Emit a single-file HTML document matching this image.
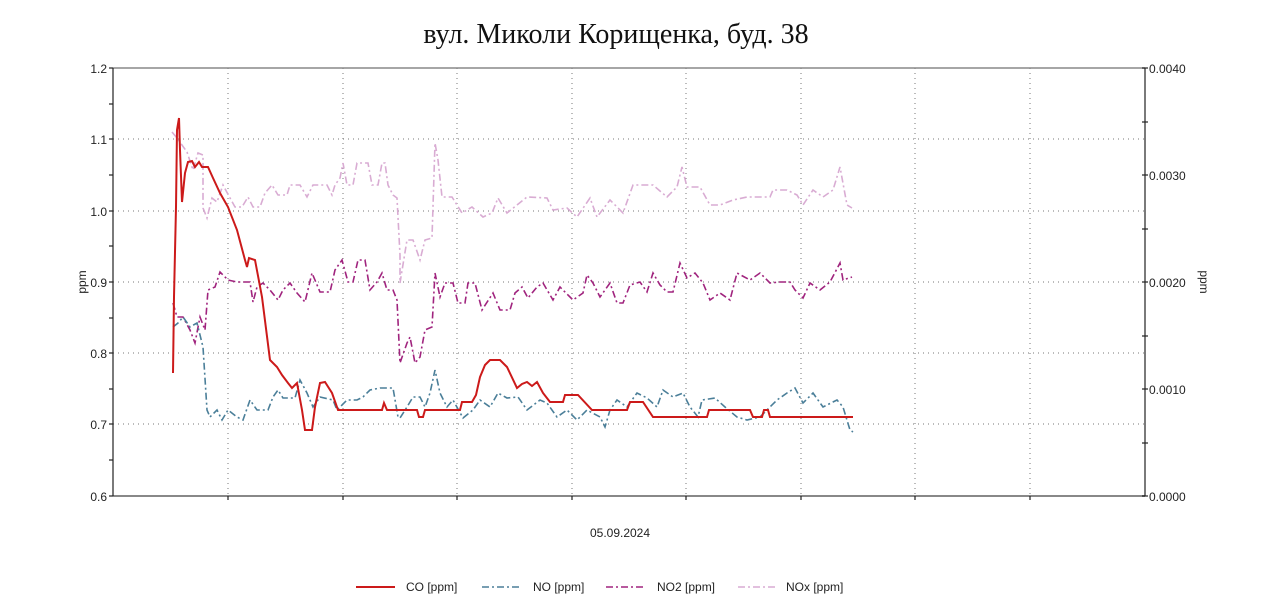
<!DOCTYPE html>
<html><head><meta charset="utf-8"><style>
html,body{margin:0;padding:0;background:#fff;}
svg{display:block;}
text{font-family:"Liberation Sans",sans-serif;fill:#222;}
</style></head><body>
<svg width="1280" height="606" viewBox="0 0 1280 606" xmlns="http://www.w3.org/2000/svg">
<text x="616" y="43" text-anchor="middle" style="font-family:'Liberation Serif','Noto Serif CJK SC',serif;font-size:28px;fill:#111">вул. Миколи Корищенка, буд. 38</text>
<g stroke="#777" stroke-width="1" stroke-dasharray="1,4">
<line x1="113" y1="139" x2="1145" y2="139"/><line x1="113" y1="211" x2="1145" y2="211"/><line x1="113" y1="282" x2="1145" y2="282"/><line x1="113" y1="353" x2="1145" y2="353"/><line x1="113" y1="424" x2="1145" y2="424"/>
<line x1="228" y1="68" x2="228" y2="496"/><line x1="343" y1="68" x2="343" y2="496"/><line x1="457" y1="68" x2="457" y2="496"/><line x1="572" y1="68" x2="572" y2="496"/><line x1="686" y1="68" x2="686" y2="496"/><line x1="801" y1="68" x2="801" y2="496"/><line x1="915" y1="68" x2="915" y2="496"/><line x1="1030" y1="68" x2="1030" y2="496"/>
</g>
<line x1="113" y1="68" x2="1145" y2="68" stroke="#888" stroke-width="1.5"/>
<line x1="113" y1="496" x2="1145" y2="496" stroke="#888" stroke-width="2"/>
<line x1="113" y1="68" x2="113" y2="496" stroke="#222" stroke-width="1.2"/>
<line x1="1145" y1="68" x2="1145" y2="496" stroke="#222" stroke-width="1.2"/>
<g stroke="#222" stroke-width="1.2">
<line x1="109" y1="68" x2="113" y2="68"/><line x1="109" y1="104" x2="113" y2="104"/><line x1="109" y1="139" x2="113" y2="139"/><line x1="109" y1="175" x2="113" y2="175"/><line x1="109" y1="211" x2="113" y2="211"/><line x1="109" y1="246" x2="113" y2="246"/><line x1="109" y1="282" x2="113" y2="282"/><line x1="109" y1="318" x2="113" y2="318"/><line x1="109" y1="353" x2="113" y2="353"/><line x1="109" y1="389" x2="113" y2="389"/><line x1="109" y1="424" x2="113" y2="424"/><line x1="109" y1="460" x2="113" y2="460"/><line x1="109" y1="496" x2="113" y2="496"/>
<line x1="1142" y1="68" x2="1148" y2="68"/><line x1="1142" y1="122" x2="1148" y2="122"/><line x1="1142" y1="175" x2="1148" y2="175"/><line x1="1142" y1="229" x2="1148" y2="229"/><line x1="1142" y1="282" x2="1148" y2="282"/><line x1="1142" y1="336" x2="1148" y2="336"/><line x1="1142" y1="389" x2="1148" y2="389"/><line x1="1142" y1="443" x2="1148" y2="443"/><line x1="1142" y1="496" x2="1148" y2="496"/>
<line x1="228" y1="496" x2="228" y2="500"/><line x1="343" y1="496" x2="343" y2="500"/><line x1="457" y1="496" x2="457" y2="500"/><line x1="572" y1="496" x2="572" y2="500"/><line x1="686" y1="496" x2="686" y2="500"/><line x1="801" y1="496" x2="801" y2="500"/><line x1="915" y1="496" x2="915" y2="500"/><line x1="1030" y1="496" x2="1030" y2="500"/>
</g>
<g font-size="12" text-anchor="end">
<text x="107" y="73">1.2</text><text x="107" y="144">1.1</text><text x="107" y="216">1.0</text><text x="107" y="287">0.9</text><text x="107" y="358">0.8</text><text x="107" y="429">0.7</text><text x="107" y="501">0.6</text>
</g>
<g font-size="12">
<text x="1149" y="73">0.0040</text><text x="1149" y="180">0.0030</text><text x="1149" y="287">0.0020</text><text x="1149" y="394">0.0010</text><text x="1149" y="501">0.0000</text>
</g>
<text transform="translate(86,282) rotate(-90)" font-size="12" text-anchor="middle">ppm</text>
<text transform="translate(1200,282) rotate(90)" font-size="12" text-anchor="middle">ppm</text>
<text x="620" y="537" font-size="12" text-anchor="middle">05.09.2024</text>

<polyline fill="none" stroke="#d9acd3" stroke-width="1.6" stroke-dasharray="7,3,2,3" points="172,132 177,138 187,152 193,170 198,153 203,155 203,208 207,218 212,198 217,202 223,185 230,198 235,207 242,207 248,197 253,207 260,207 265,193 272,185 278,195 287,195 290,185 300,185 307,197 313,185 327,185 332,195 335,185 340,178 343,163 347,185 353,185 357,163 368,163 372,185 378,185 382,163 385,163 388,185 393,195 397,198 400,255 400,283 407,240 413,240 420,260 425,240 432,238 435,143 438,160 442,197 452,197 462,213 472,207 483,217 492,213 498,198 507,213 517,205 527,197 547,198 553,210 567,208 577,217 590,198 597,217 610,200 623,213 633,185 653,185 667,197 677,187 682,167 687,187 700,187 710,205 720,205 733,200 747,197 770,197 773,190 787,190 797,195 803,205 813,190 823,197 833,190 840,167 847,205 852,208"/>
<polyline fill="none" stroke="#a0247e" stroke-width="1.6" stroke-dasharray="7,3,2,3" points="173,303 177,317 183,317 190,330 195,343 200,317 205,330 208,290 215,287 220,272 228,280 237,282 250,282 253,302 257,287 263,283 270,290 278,300 283,290 290,283 297,293 305,302 312,273 320,292 330,292 335,270 342,260 348,282 353,282 358,260 365,260 370,290 377,282 382,273 387,290 393,290 397,300 400,363 407,343 410,337 415,363 420,357 425,330 432,327 435,273 440,297 445,283 453,283 458,303 465,303 468,283 475,283 482,310 493,293 500,310 510,310 515,293 522,287 528,298 537,287 543,283 553,300 560,287 573,300 583,293 587,275 593,283 600,297 610,283 617,303 623,303 630,285 640,282 647,292 653,273 660,285 667,292 673,292 680,263 687,278 695,273 703,283 710,300 720,293 730,300 737,273 750,280 760,273 770,283 780,282 790,282 795,290 803,298 810,283 820,290 830,282 840,263 843,280 852,277"/>
<polyline fill="none" stroke="#4b7f99" stroke-width="1.6" stroke-dasharray="7,3,2,3" points="173,327 178,323 183,317 190,327 197,323 203,347 207,410 210,417 217,410 222,420 228,410 237,417 243,420 250,400 257,410 268,410 273,397 278,390 283,398 295,398 300,380 307,393 313,407 320,397 333,400 337,410 347,400 357,400 363,397 370,390 380,388 393,388 398,417 400,418 407,407 413,397 420,397 425,407 430,393 435,370 440,393 447,407 453,400 463,418 473,410 480,400 490,407 498,393 507,398 518,397 527,410 540,400 547,403 557,417 567,410 577,420 587,410 600,417 605,427 610,410 617,400 627,407 637,393 647,398 657,407 663,390 673,397 683,393 690,407 698,417 702,400 715,398 725,407 737,417 747,420 760,417 770,407 777,400 787,393 795,388 803,403 813,393 823,407 837,400 843,407 850,430 853,432"/>
<polyline fill="none" stroke="#cc1a1a" stroke-width="2" points="173,373 174,297 176,207 177,130 179,118 180,150 182,202 185,173 188,162 192,161 195,167 199,162 202,167 208,167 213,178 220,193 228,207 237,230 245,260 247,267 249,258 255,260 262,297 270,360 277,367 282,375 288,383 292,388 297,383 302,410 305,430 312,430 315,407 320,383 325,382 332,393 338,410 382,410 384,403 387,410 417,410 419,417 423,417 425,410 460,410 462,402 472,402 476,395 480,377 485,365 490,360 500,360 507,367 517,388 522,384 527,382 532,386 537,382 543,393 550,402 563,402 565,395 578,395 592,410 627,410 630,402 643,402 653,417 707,417 709,410 750,410 753,417 762,417 764,410 768,410 770,417 853,417"/>

<line x1="356" y1="587" x2="395" y2="587" stroke="#cc1a1a" stroke-width="2"/>
<line x1="482" y1="587" x2="521" y2="587" stroke="#4b7f99" stroke-width="1.6" stroke-dasharray="7,3,2,3"/>
<line x1="606" y1="587" x2="645" y2="587" stroke="#a0247e" stroke-width="1.6" stroke-dasharray="7,3,2,3"/>
<line x1="738" y1="587" x2="777" y2="587" stroke="#d9acd3" stroke-width="1.6" stroke-dasharray="7,3,2,3"/>
<g font-size="12">
<text x="406" y="591">CO [ppm]</text><text x="533" y="591">NO [ppm]</text><text x="657" y="591">NO2 [ppm]</text><text x="786" y="591">NOx [ppm]</text>
</g>
</svg>
</body></html>
